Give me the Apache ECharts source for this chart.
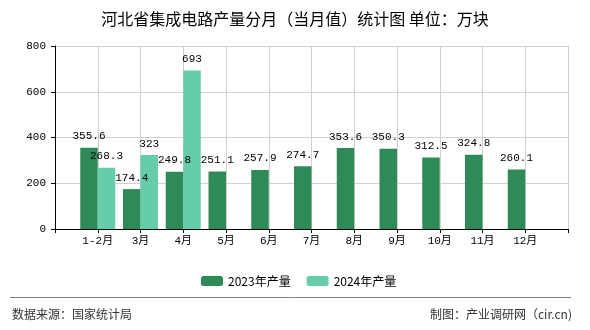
<!DOCTYPE html>
<html>
<head>
<meta charset="utf-8">
<script src="https://cdn.jsdelivr.net/npm/echarts@6/dist/echarts.min.js"></script>
<style>
html,body{margin:0;padding:0;background:#fff;}
#chart{width:590px;height:330px;}
</style>
</head>
<body>
<div id="chart"></div>
<script>
var titleText = '河北省集成电路产量分月（当月值）统计图 单位：万块';
var months = ['1-2月','3月','4月','5月','6月','7月','8月','9月','10月','11月','12月'];
var values2023 = [355.6, 174.4, 249.8, 251.1, 257.9, 274.7, 353.6, 350.3, 312.5, 324.8, 260.1];
var values2024 = [268.3, 323, 693, null, null, null, null, null, null, null, null];
var seriesNames = ['2023年产量', '2024年产量'];
var colors = ['#2E8B57', '#66CDAA'];
var sourceText = '数据来源：国家统计局';
var creditText = '制图：产业调研网（cir.cn)';

var axisData = [''].concat(months).concat(['']);
function pad(arr){ return [null].concat(arr).concat([null]); }

var monoFont = '"Liberation Mono", "Noto Sans CJK SC", monospace';
var cjkFont = '"Noto Sans CJK SC", sans-serif';

var chart = echarts.init(document.getElementById('chart'));
chart.setOption({
  animation: false,
  backgroundColor: '#fff',
  title: {
    text: titleText,
    left: 'center',
    top: 6,
    textStyle: {fontFamily: cjkFont, fontSize: 16, fontWeight: 'normal', color: '#000'}
  },
  legend: {
    data: seriesNames,
    left: 196,
    top: 270,
    itemWidth: 22,
    itemHeight: 10,
    itemGap: 16,
    textStyle: {fontFamily: cjkFont, fontSize: 12, color: '#000'}
  },
  grid: {left: 55, right: 22, top: 46, bottom: 101, containLabel: false},
  xAxis: {
    type: 'category',
    data: axisData,
    boundaryGap: false,
    axisLine: {lineStyle: {color: '#000', width: 1}},
    axisTick: {show: true, length: 4, lineStyle: {color: '#000'}, interval: 0},
    axisLabel: {interval: 0, margin: 7, color: '#000', fontFamily: monoFont, fontSize: 11},
    splitLine: {show: true, interval: 0, lineStyle: {color: '#d0d0d0', width: 1}}
  },
  yAxis: {
    type: 'value',
    min: 0,
    max: 800,
    interval: 200,
    axisLine: {show: true, lineStyle: {color: '#000', width: 1}},
    axisTick: {show: true, length: 4, lineStyle: {color: '#000'}},
    axisLabel: {margin: 9, color: '#000', fontFamily: monoFont, fontSize: 11},
    splitLine: {show: true, lineStyle: {color: '#d0d0d0', width: 1}}
  },
  series: [
    {
      name: seriesNames[0],
      type: 'bar',
      data: pad(values2023),
      barWidth: 17.5,
      barGap: '0%',
      itemStyle: {color: colors[0]},
      label: {show: true, position: 'top', distance: 6, color: '#000', fontFamily: monoFont, fontSize: 11}
    },
    {
      name: seriesNames[1],
      type: 'bar',
      data: pad(values2024),
      barWidth: 17.5,
      barGap: '0%',
      itemStyle: {color: colors[1]},
      label: {show: true, position: 'top', distance: 6, color: '#000', fontFamily: monoFont, fontSize: 11}
    }
  ],
  graphic: [
    {type: 'line', shape: {x1: 10, y1: 297.5, x2: 571, y2: 297.5}, style: {stroke: '#808080', lineWidth: 1}},
    {type: 'text', left: 12, top: 308, style: {text: sourceText, fill: '#333', font: '12px "Noto Sans CJK SC", sans-serif'}},
    {type: 'text', right: 18, top: 308, style: {text: creditText, fill: '#333', font: '12px "Noto Sans CJK SC", sans-serif'}}
  ]
});
</script>
</body>
</html>
